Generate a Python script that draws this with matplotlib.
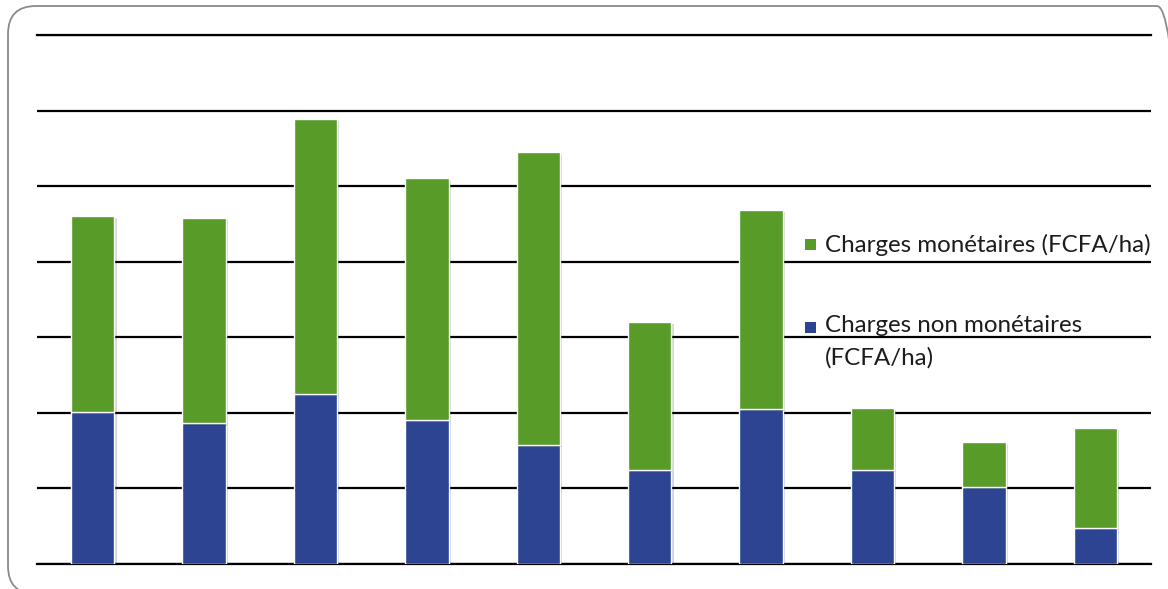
import matplotlib
matplotlib.use("Agg")
import matplotlib.pyplot as plt
from matplotlib.patches import FancyBboxPatch, Rectangle
from matplotlib.transforms import IdentityTransform
import matplotlib.patheffects as pe

# Data (units = one gridline step)
exploitations = list(range(1, 11))
non_monetaires = [2.01, 1.86, 2.25, 1.90, 1.57, 1.24, 2.05, 1.24, 1.02, 0.48]
totales = [4.60, 4.58, 5.89, 5.11, 5.45, 3.20, 4.68, 2.06, 1.61, 1.80]
monetaires = [t - n for t, n in zip(totales, non_monetaires)]

green = "#589B28"
blue = "#2C4491"
text_color = "#1c1c1c"

fig = plt.figure(figsize=(11.68, 5.89), dpi=100)
W, H = 1168, 589
ax = fig.add_axes([37 / W, 25 / H, (1151 - 37) / W, (564 - 35) / H])

x = [i - 1 for i in exploitations]
shadow = [pe.SimplePatchShadow(offset=(1.5, -1.5), alpha=0.18), pe.Normal()]
b1 = ax.bar(x, non_monetaires, width=0.39, color=blue, edgecolor="white",
            linewidth=1.0, zorder=3)
b2 = ax.bar(x, monetaires, bottom=non_monetaires, width=0.39, color=green,
            edgecolor="white", linewidth=1.0, zorder=3)
for p in list(b1) + list(b2):
    p.set_path_effects(shadow)

ax.set_xlim(-0.5, 9.5)
ax.set_ylim(0, 7)
ax.set_yticks(range(0, 8))
ax.grid(axis="y", color="black", linewidth=1.6, zorder=1)
ax.set_axisbelow(True)
ax.tick_params(left=False, bottom=False, labelleft=False, labelbottom=False)
for s in ax.spines.values():
    s.set_visible(False)
# first and last gridlines sit on the axes edges
ax.axhline(0, color="black", linewidth=1.6, zorder=1, clip_on=False)
ax.axhline(7, color="black", linewidth=1.6, zorder=1, clip_on=False)

# Legend (drawn by hand so the marker sits on the first text line)
fs = 17.4
fig.add_artist(Rectangle((805, H - 250), 11, 11, transform=IdentityTransform(),
                         facecolor=green, edgecolor="none"))
fig.add_artist(Rectangle((805, H - 333), 11, 11, transform=IdentityTransform(),
                         facecolor=blue, edgecolor="none"))
fig.text(825 / W, 1 - 252 / H, "Charges monétaires (FCFA/ha)", fontsize=fs,
         family="Lato", color=text_color, va="baseline", ha="left")
fig.text(825 / W, 1 - 331.5 / H, "Charges non monétaires", fontsize=fs,
         family="Lato", color=text_color, va="baseline", ha="left")
fig.text(825 / W, 1 - 365 / H, "(FCFA/ha)", fontsize=fs,
         family="Lato", color=text_color, va="baseline", ha="left")

# rounded chart-area border, running off the right and bottom edges
border = FancyBboxPatch((8, -5), 1185 - 8, H - 6 + 5,
                        boxstyle="round,pad=0,rounding_size=28",
                        transform=IdentityTransform(), facecolor="none",
                        edgecolor="#8a8a8a", linewidth=1.3)
fig.add_artist(border)

fig.savefig("out.png", dpi=100)
